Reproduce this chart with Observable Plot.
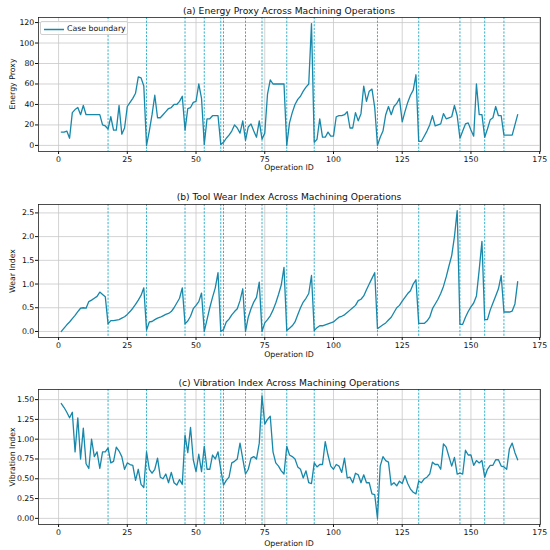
<!DOCTYPE html>
<html><head><meta charset="utf-8">
<script src="https://cdn.jsdelivr.net/npm/d3@7"></script>
<script src="https://cdn.jsdelivr.net/npm/@observablehq/plot@0.6"></script>
<style>
body{margin:0;background:#fff;font-family:"DejaVu Sans",sans-serif;}
#c{position:relative;width:550px;height:550px;overflow:hidden;background:#fff;}
.title{position:absolute;left:38px;width:502px;text-align:center;font-size:9.2px;line-height:1;color:#111;white-space:nowrap;}
.xl{position:absolute;left:38px;width:502px;text-align:center;font-size:7.8px;line-height:1;color:#111;}
.yl{position:absolute;left:13px;font-size:7.8px;line-height:1;color:#111;white-space:nowrap;transform:translate(-50%,-50%) rotate(-90deg);}
.legend{position:absolute;left:40px;top:21px;width:88px;height:14px;border:1px solid #d0d0d0;border-radius:2px;background:rgba(255,255,255,0.85);box-sizing:border-box;}
.legend svg{position:absolute;left:2px;top:5.5px;}
.legend span{position:absolute;left:26px;top:2.8px;font-size:7.8px;line-height:1;color:#111;white-space:nowrap;}
</style></head><body><div id="c"></div>
<script>
// Operation IDs 1..167
const operationIds = d3.range(1, 168);
// Case boundaries (operation IDs where dashed lines are drawn)
const caseBoundaries = [18, 32, 46, 53, 59, 60, 68, 74, 83, 93, 116, 131, 146, 155, 162];
const xTicks = [0, 25, 50, 75, 100, 125, 150, 175];

const energyProxy = [
  13,13,14,7,32,35,37,30,39,30,
  30,30,30,30,30,20,19,16,28,15,
  15,39,11,17,38,42,46,51,67,66,
  58,0,14,30,49,27,27,30,33,36,
  37,40,40,43,48,15,36,37,42,43,
  60,46,1,26,26,29,29,29,1,3,
  7,10,14,20,17,12,24,5,18,21,
  14,8,24,6,12,50,64,60,60,60,
  60,60,0,22,32,40,45,48,53,57,
  60,119,3,6,26,8,8,13,9,9,
  28,29,29,30,33,17,17,32,24,31,
  58,43,53,55,37,0,8,14,30,38,
  30,38,41,46,23,33,42,49,54,69,
  4,4,9,14,20,29,19,20,21,31,
  26,27,28,39,29,7,14,21,22,15,
  9,60,30,30,8,16,25,27,38,29,
  29,10,10,10,10,20,30
];
const wearIndex = [
  0,0.07,0.14,0.2,0.27,0.34,0.42,0.49,0.5,0.49,
  0.63,0.66,0.7,0.74,0.83,0.78,0.73,0.16,0.23,0.23,
  0.24,0.25,0.28,0.31,0.36,0.42,0.49,0.57,0.66,0.76,
  0.92,0.03,0.2,0.21,0.25,0.28,0.3,0.33,0.36,0.38,
  0.42,0.5,0.6,0.7,0.92,0.16,0.22,0.32,0.48,0.55,
  0.63,0.81,0,0.25,0.5,0.72,0.92,1.24,0,0.04,
  0.2,0.26,0.35,0.42,0.48,0.65,0.9,0,0.3,0.48,
  0.62,0.72,1.04,0,0.18,0.25,0.33,0.45,0.6,0.78,
  0.98,1.35,0.02,0.07,0.12,0.2,0.35,0.5,0.62,0.7,
  0.8,1.18,0.02,0.08,0.12,0.12,0.14,0.16,0.18,0.2,
  0.25,0.3,0.32,0.35,0.4,0.45,0.5,0.55,0.65,0.68,
  0.75,0.88,1.0,1.12,1.24,0.06,0.1,0.14,0.18,0.24,
  0.3,0.4,0.5,0.55,0.64,0.72,0.8,0.86,1.0,1.09,
  0.17,0.17,0.17,0.22,0.3,0.48,0.58,0.68,0.8,0.95,
  1.15,1.38,1.6,2.0,2.55,0.15,0.15,0.3,0.42,0.52,
  0.6,0.75,1.3,1.9,0.25,0.25,0.45,0.6,0.75,0.9,
  1.18,0.41,0.41,0.41,0.43,0.58,1.05
];
const vibrationIndex = [
  1.45,1.40,1.34,1.27,1.34,0.84,1.27,0.75,1.14,0.69,
  0.63,1.0,0.78,0.84,0.63,0.84,0.84,0.89,0.7,0.72,
  0.9,0.85,0.78,0.62,0.7,0.68,0.67,0.48,0.62,0.43,
  0.39,0.84,0.62,0.57,0.62,0.76,0.52,0.5,0.56,0.45,
  0.58,0.45,0.42,0.49,0.43,1.05,0.83,1.15,0.74,0.59,
  0.81,0.59,0.91,0.62,0.62,0.8,0.75,0.84,0.62,0.42,
  0.48,0.52,0.7,0.72,0.75,0.95,0.75,0.56,0.62,0.76,
  0.78,0.75,0.95,1.55,1.19,1.25,1.29,0.84,0.7,0.66,
  0.6,0.56,0.91,0.8,0.78,0.75,0.65,0.62,0.51,0.6,
  0.45,0.44,0.7,0.65,0.68,0.68,0.97,0.8,0.66,0.62,
  0.68,0.66,0.58,0.76,0.51,0.52,0.45,0.57,0.55,0.45,
  0.55,0.45,0.45,0.31,0.3,0,0.66,0.78,0.73,0.71,
  0.42,0.45,0.41,0.47,0.44,0.54,0.44,0.37,0.33,0.31,
  0.47,0.45,0.5,0.52,0.56,0.71,0.68,0.68,0.62,0.94,
  0.9,0.78,0.66,0.77,0.56,0.57,0.56,0.86,0.8,0.8,
  0.67,0.73,0.7,0.73,0.52,0.62,0.67,0.67,0.74,0.74,
  0.66,0.65,0.62,0.88,0.95,0.83,0.74
];

const panels = [
  {title:"(a) Energy Proxy Across Machining Operations", ylabel:"Energy Proxy", values: energyProxy,
   yTicks:[0,20,40,60,80,100,120], fmt:d3.format("d")},
  {title:"(b) Tool Wear Index Across Machining Operations", ylabel:"Wear Index", values: wearIndex,
   yTicks:[0,0.5,1,1.5,2,2.5], fmt:d3.format(".1f")},
  {title:"(c) Vibration Index Across Machining Operations", ylabel:"Vibration Index", values: vibrationIndex,
   yTicks:[0,0.25,0.5,0.75,1,1.25,1.5], fmt:d3.format(".2f")}
];
// layout (pixels)
const layout = [
  {top:0,   height:176, mt:17, mb:25, titleTop:6.4,   xlTop:164.4},
  {top:178, height:182, mt:26, mb:23, titleTop:192.4, xlTop:351},
  {top:362, height:188, mt:27, mb:26, titleTop:377.7, xlTop:540.4}
];
const lineColor = "#1787aa";
const dashColor = "#35b2ca";
const c = document.getElementById("c");

panels.forEach((p, k) => {
  const L = layout[k];
  const data = operationIds.map((id, i) => ({id, v: p.values[i]}));
  const ext = d3.extent(p.values);
  const pad = (ext[1] - ext[0]) * 0.05;
  const svg = Plot.plot({
    width: 550, height: L.height,
    marginTop: L.mt, marginBottom: L.mb, marginLeft: 38, marginRight: 10,
    style: {fontFamily: "DejaVu Sans, sans-serif", fontSize: "7.8px", color: "#111", background: "transparent", overflow: "visible"},
    x: {domain: [-7.3, 175.3], ticks: xTicks, tickSize: 3, tickPadding: 1.5, tickFormat: d3.format("d"), label: null},
    y: {domain: [ext[0] - pad, ext[1] + pad], ticks: p.yTicks, tickSize: 3, tickPadding: 1.2, tickFormat: p.fmt, label: null},
    marks: [
      Plot.gridX(xTicks, {stroke: "#c8c8c8", strokeOpacity: 1, strokeWidth: 0.8}),
      Plot.gridY(p.yTicks, {stroke: "#c8c8c8", strokeOpacity: 1, strokeWidth: 0.8}),
      Plot.ruleX(caseBoundaries, {stroke: dashColor, strokeWidth: 1, strokeDasharray: "2.2,1.4"}),
      Plot.line(data, {x: "id", y: "v", stroke: lineColor, strokeWidth: 1.3}),
      Plot.frame({stroke: "#222", strokeWidth: 0.8})
    ]
  });
  svg.style.position = "absolute";
  svg.style.left = "0px";
  svg.style.top = L.top + "px";
  c.appendChild(svg);

  const t = document.createElement("div");
  t.className = "title"; t.style.top = L.titleTop + "px"; t.textContent = p.title;
  c.appendChild(t);
  const xl = document.createElement("div");
  xl.className = "xl"; xl.style.top = L.xlTop + "px"; xl.textContent = "Operation ID";
  c.appendChild(xl);
  const yl = document.createElement("div");
  yl.className = "yl"; yl.style.top = (L.top + L.mt + (L.height - L.mt - L.mb) / 2) + "px"; yl.textContent = p.ylabel;
  c.appendChild(yl);
});

// legend in panel (a)
const lg = document.createElement("div");
lg.className = "legend";
lg.innerHTML = `<svg width="22" height="3"><line x1="1" x2="21" y1="1.5" y2="1.5" stroke="${lineColor}" stroke-width="1.5"/></svg><span>Case boundary</span>`;
c.appendChild(lg);
</script>
</body></html>
